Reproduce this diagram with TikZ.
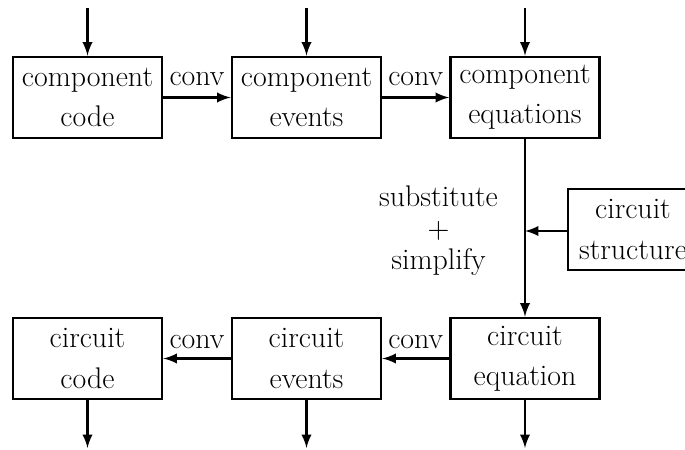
\documentclass[tikz,border=0pt]{standalone}
\usepackage{tikz}
\usetikzlibrary{positioning}

\begin{document}
\begin{tikzpicture}[
    box/.style={draw, line width=1.6pt, minimum width=2.98cm, minimum height=1.62cm,
        inner sep=0pt, align=center, font=\fontsize{17}{23}\selectfont},
    lbl/.style={font=\fontsize{17}{18}\selectfont},
    flow/.style={->, >=latex, line width=1.6pt}]
    \useasboundingbox (0,0) rectangle (13.7,9);

    % component row
    \node[box] (compcode) at (1.75,7.05) {component\\code};
    \node[box] (compevents) at (6.13,7.05) {component\\events};
    \node[box] (compeqn) at (10.5,7.05) {component\\equations};

    % circuit row
    \node[box] (circcode) at (1.75,1.83) {circuit\\code};
    \node[box] (circevents) at (6.13,1.83) {circuit\\events};
    \node[box] (circeqn) at (10.5,1.83) {circuit\\equation};

    \node[box, minimum width=2.6cm] (circstruct) at (12.66,4.41) {circuit\\structure};

    % inputs and outputs
    \coordinate (in1) at (1.75,8.84);
    \coordinate (in2) at (6.13,8.84);
    \coordinate (in3) at (10.5,8.84);
    \coordinate (out1) at (1.75,0.04);
    \coordinate (out2) at (6.13,0.04);
    \coordinate (out3) at (10.5,0.04);
    \draw[flow] (in1) -- (compcode);
    \draw[flow] (in2) -- (compevents);
    \draw[flow] (in3) -- (compeqn);
    \draw[flow] (circcode) -- (out1);
    \draw[flow] (circevents) -- (out2);
    \draw[flow] (circeqn) -- (out3);

    % conversions
    \draw[flow] (compcode) -- node[lbl, above, inner sep=6pt] {conv} (compevents);
    \draw[flow] (compevents) -- node[lbl, above, inner sep=6pt] {conv} (compeqn);
    \draw[flow] (circevents) -- node[lbl, above, inner sep=5pt] {conv} (circcode);
    \draw[flow] (circeqn) -- node[lbl, above, inner sep=5pt] {conv} (circevents);

    % substitution
    \coordinate (join) at (10.5,4.38);
    \draw[flow] (compeqn) -- (circeqn);
    \draw[flow] (circstruct.west |- join) -- (join);
    \node[lbl, align=center, left=0.42cm of join] (subst) {substitute\\$+$\\simplify};
\end{tikzpicture}
\end{document}
